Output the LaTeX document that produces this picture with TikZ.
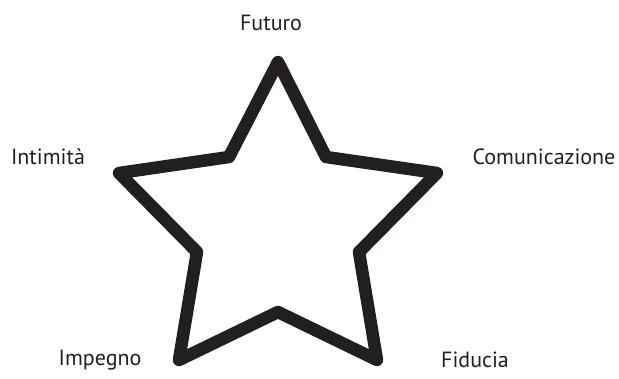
\documentclass[tikz,border=0pt]{standalone}
\usepackage{fontspec}
\setmainfont{PT Sans}
\usetikzlibrary{positioning}
\definecolor{ink}{HTML}{231F20}

\begin{document}
\begin{tikzpicture}[x=1pt, y=-1pt, font=\fontsize{22}{25}\selectfont]
    \useasboundingbox (0,0) rectangle (619,378);
    % outer tips and inner corners of the star
    \coordinate (tA) at (278,62);  \coordinate (iA) at (326,157);
    \coordinate (tB) at (437,173); \coordinate (iB) at (359,252);
    \coordinate (tC) at (377,360); \coordinate (iC) at (278,312);
    \coordinate (tD) at (179,360); \coordinate (iD) at (197,252);
    \coordinate (tE) at (119,173); \coordinate (iE) at (229,157);
    \draw[ink, line width=12.5pt, line join=round]
      (tA) -- (iA) -- (tB) -- (iB) -- (tC) -- (iC) -- (tD) -- (iD) -- (tE) -- (iE) -- cycle;
    \node[ink] (futuro) at (271,23) {Futuro};
    \node[ink] (intimita) at (48,157) {Intimità};
    \node[ink] (comunicazione) at (544,157) {Comunicazione};
    \node[ink] (impegno) at (100,360) {Impegno};
    \node[ink] (fiducia) at (475,360) {Fiducia};
\end{tikzpicture}
\end{document}
